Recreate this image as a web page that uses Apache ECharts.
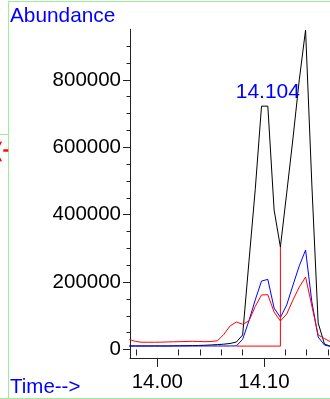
<!DOCTYPE html>
<html>
<head>
<meta charset="utf-8">
<script src="https://cdn.jsdelivr.net/npm/echarts@6/dist/echarts.min.js"></script>
<style>
html,body{margin:0;padding:0;background:#fff;}
#chart{width:330px;height:399px;}
</style>
</head>
<body>
<div id="chart"></div>
<script>
// retention time (min), one scan each
var times = [13.9738, 13.9797, 13.9856, 13.9915, 13.9974, 14.0033, 14.0092, 14.0151, 14.0210, 14.0269,
	14.0328, 14.0387, 14.0446, 14.0505, 14.0564, 14.0623, 14.0682, 14.0741, 14.0800, 14.0859,
	14.0918, 14.0977, 14.1036, 14.1095, 14.1154, 14.1213, 14.1272, 14.1331, 14.1390, 14.1449,
	14.1508, 14.1567, 14.1626];
// abundance traces
var blackData = [10400, 10400, 10400, 10400, 10400, 10400, 10400, 10700, 11000, 11200,
	11500, 11900, 12500, 13400, 14500, 15700, 17800, 22000, 43000, 260000,
	474000, 722000, 722000, 414000, 304000, 464000, 627000, 800000, 948000, 488000,
	78600, 16300, 9000];
var blueData = [10400, 10400, 10200, 10300, 10400, 10400, 10300, 10400, 10400, 10400,
	10400, 10300, 10400, 10400, 10400, 10400, 10400, 10600, 30000, 85000,
	147000, 203000, 208000, 123000, 95000, 132000, 191000, 248000, 295000, 141000,
	37000, 13000, 9000];
var redData = [29700, 23700, 21400, 21400, 21400, 21700, 22300, 22800, 23100, 23700,
	24300, 23700, 23100, 23700, 25800, 44500, 69700, 81600, 74800, 84600,
	127600, 161700, 162600, 111000, 84600, 105000, 147000, 185000, 215000, 129000,
	43000, 32600, 22000];
// integration baseline: start/end scan index, level
var baseStart = 17, baseEnd = 24, baseLevel = 10000;
var peakIndex = 22;
var peakLabel = '14.104';
var yLabels = [0, 200000, 400000, 600000, 800000];
var yMinor = [50000, 100000, 150000, 250000, 300000, 350000, 450000, 500000, 550000,
	650000, 700000, 750000, 850000, 900000];
var xLabels = [14.00, 14.10];
var xMinor = [13.98, 14.02, 14.04, 14.06, 14.08, 14.12, 14.14, 14.16];

var FONT = 'Liberation Sans';

function pairs(ys){
	var out = [];
	for(var i=0;i<times.length;i++){
		out.push([times[i], ys[i]]);
	}
	return out;
}

function lineSeries(name, ys, color){
	return {
		name: name, type: 'line', data: pairs(ys), symbol: 'none',
		lineStyle: {color: color, width: 1}, z: 2
	};
}

function initChart(){
	var myChart = echarts.init(document.getElementById('chart'));
	var green = '#9ced9c';
	var black = lineSeries('black', blackData, '#000000');
	black.markPoint = {
		symbol: 'circle', symbolSize: 0,
		data: [{coord: [times[peakIndex], blackData[peakIndex]]}],
		label: {show: true, position: 'top', distance: 3, formatter: peakLabel,
			color: '#0000ff', fontSize: 21, fontFamily: FONT}
	};
	var step = {
		name: 'base', type: 'line', symbol: 'none',
		data: [[times[baseStart], baseLevel], [times[baseEnd], baseLevel], [times[baseEnd], blackData[baseEnd]]],
		lineStyle: {color: '#ff0000', width: 1}, z: 2
	};
	var option = {
		animation: false,
		backgroundColor: '#fff',
		grid: {left: 130, top: 29.3, right: 0, bottom: 41.1, outerBoundsMode: 'none'},
		xAxis: [{
			type: 'value', position: 'bottom', min: 13.9744, max: 14.1619,
			axisLine: {onZero: false, lineStyle: {color: '#222', width: 1}},
			axisTick: {customValues: xLabels, length: 9, lineStyle: {color: '#222'}},
			axisLabel: {customValues: xLabels, margin: 14, color: '#000', fontSize: 20.5, fontFamily: FONT,
				formatter: function(v){ return v.toFixed(2); }},
			splitLine: {show: false}
		}, {
			type: 'value', position: 'bottom', min: 13.9744, max: 14.1619,
			axisLine: {show: false},
			axisTick: {customValues: xMinor, length: 6, lineStyle: {color: '#222'}},
			axisLabel: {show: false},
			splitLine: {show: false}
		}],
		yAxis: [{
			type: 'value', position: 'left', min: -25000, max: 950000,
			axisLine: {show: true, onZero: false, lineStyle: {color: '#222', width: 1}},
			axisTick: {show: true, customValues: yLabels, length: 7, lineStyle: {color: '#222'}},
			axisLabel: {customValues: yLabels, margin: 9, color: '#000', fontSize: 20.5, fontFamily: FONT,
				formatter: function(v){ return String(v); }},
			splitLine: {show: false}
		}, {
			type: 'value', position: 'left', min: -25000, max: 950000,
			axisLine: {show: false},
			axisTick: {show: true, customValues: yMinor, length: 3.5, lineStyle: {color: '#222'}},
			axisLabel: {show: false},
			splitLine: {show: false}
		}],
		series: [
			black,
			lineSeries('blue', blueData, '#0000ff'),
			step,
			lineSeries('red', redData, '#ff0000')
		],
		graphic: [
			// frame
			{type: 'line', shape: {x1: 8.5, y1: 1.5, x2: 330, y2: 1.5}, style: {stroke: green, lineWidth: 1}},
			{type: 'line', shape: {x1: 8.5, y1: 1.5, x2: 8.5, y2: 399}, style: {stroke: green, lineWidth: 1}},
			{type: 'line', shape: {x1: 0, y1: 398.5, x2: 330, y2: 398.5}, style: {stroke: green, lineWidth: 1}},
			{type: 'line', shape: {x1: 0, y1: 134.5, x2: 8.5, y2: 134.5}, style: {stroke: green, lineWidth: 1}},
			// clipped red marker at the left edge
			{type: 'line', shape: {x1: -9, y1: 141.7, x2: 1.3, y2: 161.3}, style: {stroke: '#ff0000', lineWidth: 1.5}},
			{type: 'line', shape: {x1: -9, y1: 161.3, x2: 1.3, y2: 141.7}, style: {stroke: '#ff0000', lineWidth: 1.5}},
			{type: 'line', shape: {x1: 3.3, y1: 150.5, x2: 8.3, y2: 150.5}, style: {stroke: '#ff0000', lineWidth: 2.4}},
			// labels
			{type: 'text', x: 10, y: 16, style: {text: 'Abundance', fill: '#0000ff', fontSize: 20.8, fontFamily: FONT, verticalAlign: 'middle'}},
			{type: 'text', x: 10, y: 387, style: {text: 'Time-->', fill: '#0000ff', fontSize: 20.5, fontFamily: FONT, verticalAlign: 'middle'}}
		]
	};
	myChart.setOption(option);
}
initChart();
</script>
</body>
</html>
